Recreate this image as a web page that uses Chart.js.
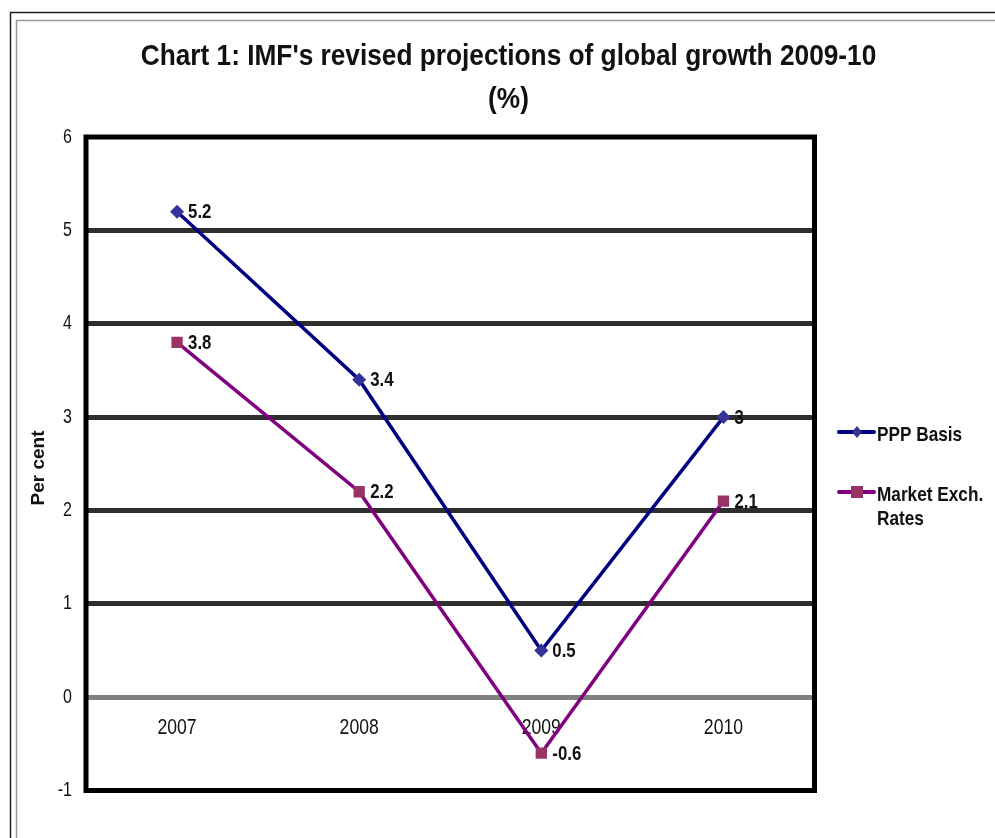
<!DOCTYPE html>
<html>
<head>
<meta charset="utf-8">
<script src="https://cdn.jsdelivr.net/npm/chart.js@4/dist/chart.umd.min.js"></script>
<style>
  html, body { margin: 0; padding: 0; background: #fff; }
  #wrap { width: 995px; height: 838px; }
</style>
</head>
<body>
<div id="wrap"><canvas id="c" width="995" height="838"></canvas></div>
<script>
// Chart data
const years = ['2007', '2008', '2009', '2010'];
const pppBasis = [5.2, 3.4, 0.5, 3];
const marketExchRates = [3.8, 2.2, -0.6, 2.1];
const seriesNames = ['PPP Basis', 'Market Exch. Rates'];
const legendLines = [['PPP Basis'], ['Market Exch.', 'Rates']];
const titleLines = ["Chart 1: IMF's revised projections of global growth 2009-10", '(%)'];
const yAxisTitle = 'Per cent';

const SANS = '"Liberation Sans", Arial, sans-serif';

// Narrow lettering: text is drawn horizontally compressed by ctx.squeeze
const canvas = document.getElementById('c');
const ctx2d = canvas.getContext('2d');
ctx2d.squeeze = 1;
const baseFillText = ctx2d.fillText.bind(ctx2d);
ctx2d.fillText = function (text, x, y) {
  const f = ctx2d.squeeze || 1;
  if (f === 1) { baseFillText(text, x, y); return; }
  ctx2d.save();
  ctx2d.translate(x, y);
  ctx2d.scale(f, 1);
  baseFillText(text, 0, 0);
  ctx2d.restore();
};

// Outer double frame, title, plot border
const framePlugin = {
  id: 'frame',
  beforeDraw(chart) {
    const ctx = chart.ctx;
    ctx.save();
    ctx.fillStyle = '#fff';
    ctx.fillRect(0, 0, chart.width, chart.height);
    ctx.lineWidth = 1.5;
    ctx.strokeStyle = '#222';
    ctx.strokeRect(10.5, 12.5, chart.width + 40, chart.height + 40);
    ctx.strokeStyle = '#999';
    ctx.strokeRect(16.5, 20.5, chart.width + 40, chart.height + 40);
    ctx.fillStyle = '#111';
    ctx.textAlign = 'center';
    ctx.textBaseline = 'middle';
    ctx.font = 'bold 30px ' + SANS;
    ctx.squeeze = 0.875;
    ctx.fillText(titleLines[0], 508.5, 57);
    ctx.fillText(titleLines[1], 508.5, 100);
    ctx.restore();
    // axis tick labels use the narrow lettering
    ctx.squeeze = 0.8;
  },
  beforeDatasetsDraw(chart) {
    const {ctx, chartArea: a} = chart;
    ctx.save();
    ctx.lineWidth = 5;
    ctx.strokeStyle = '#000';
    ctx.strokeRect(a.left, a.top, a.right - a.left, a.bottom - a.top);
    ctx.restore();
  }
};

// Value labels to the right of each point
const valueLabelPlugin = {
  id: 'valueLabels',
  afterDatasetsDraw(chart) {
    const ctx = chart.ctx;
    ctx.save();
    ctx.squeeze = 0.84;
    ctx.font = 'bold 20px ' + SANS;
    ctx.fillStyle = '#111';
    ctx.textAlign = 'left';
    ctx.textBaseline = 'middle';
    chart.data.datasets.forEach((ds, di) => {
      chart.getDatasetMeta(di).data.forEach((pt, i) => {
        ctx.fillText(String(ds.data[i]), pt.x + 11, pt.y + 1);
      });
    });
    ctx.restore();
  }
};

// Legend on the right with wrapped labels, and the y axis caption
const sideLegendPlugin = {
  id: 'sideLegend',
  afterDraw(chart) {
    const ctx = chart.ctx;
    const rows = [432, 492];
    ctx.save();
    chart.data.datasets.forEach((ds, di) => {
      const y = rows[di];
      ctx.strokeStyle = ds.borderColor;
      ctx.lineWidth = 4;
      ctx.lineCap = 'round';
      ctx.beginPath();
      ctx.moveTo(839, y);
      ctx.lineTo(874, y);
      ctx.stroke();
      ctx.fillStyle = ds.pointBackgroundColor;
      const cx = 857;
      if (ds.pointStyle === 'rect') {
        ctx.fillRect(cx - 6, y - 6, 12, 12);
      } else {
        ctx.beginPath();
        ctx.moveTo(cx, y - 6);
        ctx.lineTo(cx + 5, y);
        ctx.lineTo(cx, y + 6);
        ctx.lineTo(cx - 5, y);
        ctx.closePath();
        ctx.fill();
      }
      ctx.fillStyle = '#111';
      ctx.squeeze = 0.82;
      ctx.font = 'bold 21px ' + SANS;
      ctx.textAlign = 'left';
      ctx.textBaseline = 'middle';
      legendLines[di].forEach((line, li) => {
        ctx.fillText(line, 877, y + 3 + li * 24);
      });
    });
    // y axis caption
    ctx.squeeze = 1;
    ctx.translate(38.5, 468);
    ctx.rotate(-Math.PI / 2);
    ctx.font = 'bold 19px ' + SANS;
    ctx.textAlign = 'center';
    ctx.textBaseline = 'middle';
    ctx.fillStyle = '#111';
    ctx.fillText(yAxisTitle, 0, 0);
    ctx.restore();
  }
};

const gridColor = (ctx) => {
  const v = ctx.tick && ctx.tick.value;
  if (v === 0) return '#808080';
  if (v === 6 || v === -1) return 'rgba(0,0,0,0)';
  return '#2e2e2e';
};

new Chart(canvas, {
  type: 'line',
  data: {
    labels: years,
    datasets: [
      {
        label: seriesNames[0],
        data: pppBasis,
        borderColor: '#000080',
        borderWidth: 3.5,
        pointStyle: 'rectRot',
        pointRadius: 7,
        pointBackgroundColor: '#333399',
        pointBorderColor: '#333399',
        pointBorderWidth: 0,
        tension: 0,
        fill: false
      },
      {
        label: seriesNames[1],
        data: marketExchRates,
        borderColor: '#800080',
        borderWidth: 3.5,
        pointStyle: 'rect',
        pointRadius: 8,
        pointBackgroundColor: '#993366',
        pointBorderColor: '#993366',
        pointBorderWidth: 0,
        tension: 0,
        fill: false
      }
    ]
  },
  options: {
    responsive: false,
    animation: false,
    events: [],
    layout: { padding: { top: 137, right: 180.5, bottom: 47.5, left: 0 } },
    plugins: {
      legend: { display: false },
      title: { display: false },
      tooltip: { enabled: false }
    },
    scales: {
      x: {
        type: 'category',
        offset: true,
        position: { y: 0 },
        grid: { display: false, drawTicks: false },
        border: { display: false },
        ticks: {
          color: '#111',
          padding: 18,
          font: { family: SANS, size: 22 }
        }
      },
      y: {
        min: -1,
        max: 6,
        afterFit(scale) { scale.width = 86; },
        ticks: {
          stepSize: 1,
          color: '#111',
          padding: 14,
          font: { family: SANS, size: 20 }
        },
        grid: { color: gridColor, lineWidth: 5, drawTicks: false },
        border: { display: false },
        title: { display: false }
      }
    }
  },
  plugins: [framePlugin, valueLabelPlugin, sideLegendPlugin]
});
</script>
</body>
</html>
